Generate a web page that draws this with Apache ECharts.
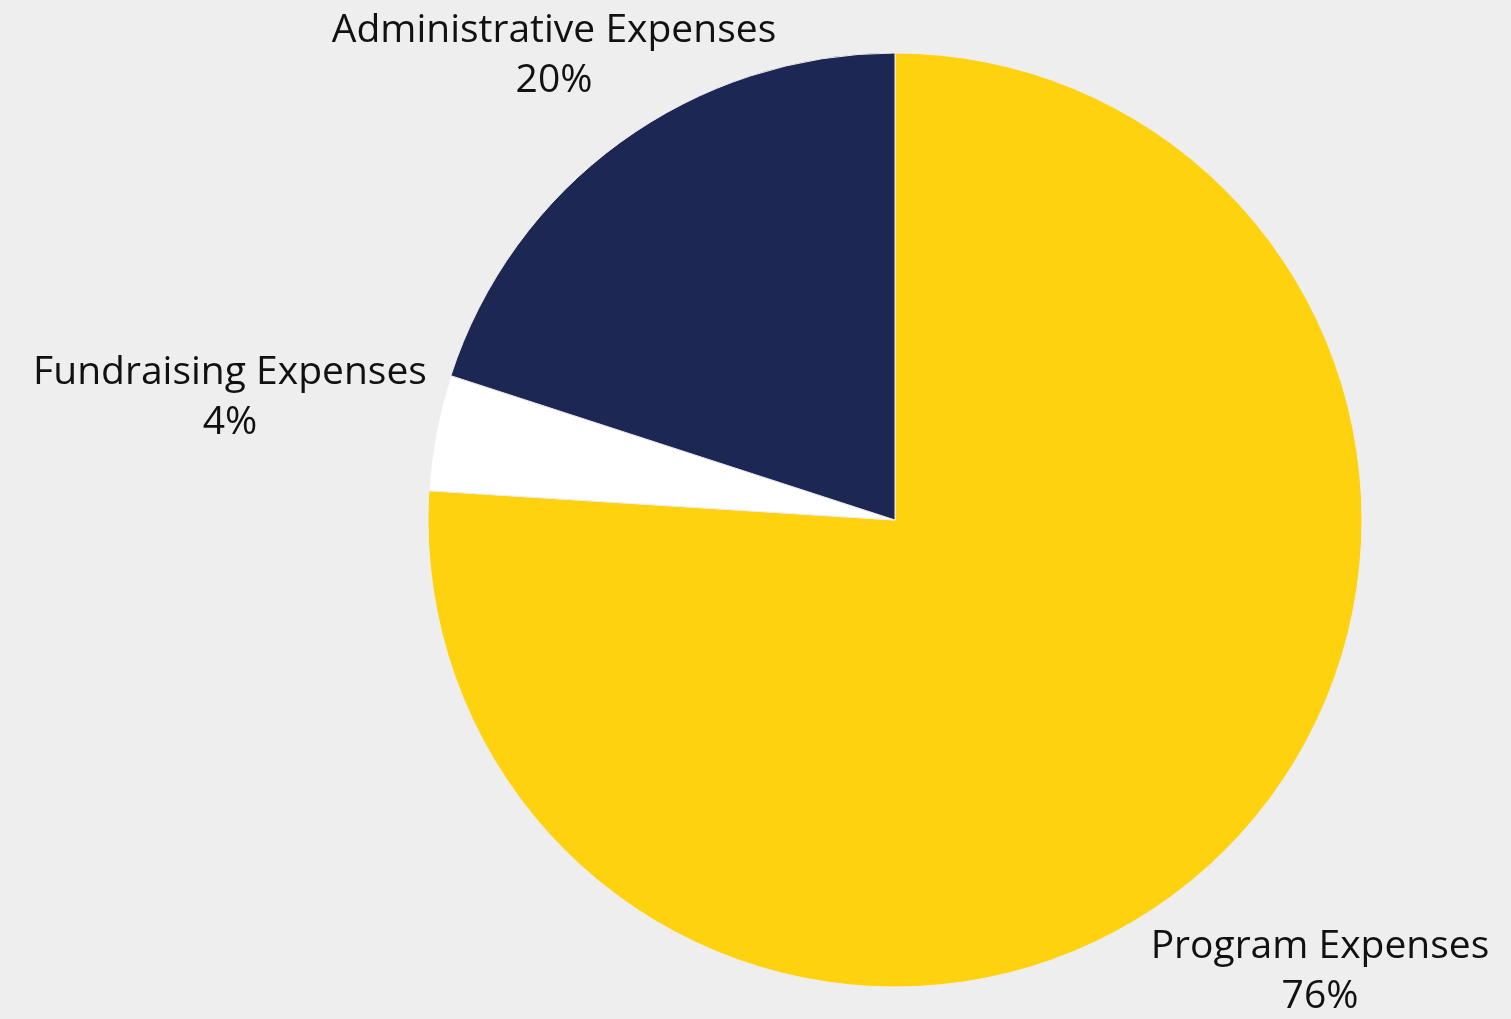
<!DOCTYPE html>
<html>
<head>
<meta charset="utf-8">
<style>
html,body{margin:0;padding:0;background:#eeeeee;}
#chart{width:1511px;height:1019px;}
</style>
<script src="https://cdn.jsdelivr.net/npm/echarts@6/dist/echarts.min.js"></script>
</head>
<body>
<div id="chart"></div>
<script>
var categories = ['Program Expenses', 'Fundraising Expenses', 'Administrative Expenses'];
var values = [76, 4, 20];
var colors = ['#FFD20F', '#FFFFFF', '#1D2753'];
var labelPos = [[1320, 972], [230, 398], [554, 56]];

var chart = echarts.init(document.getElementById('chart'));
chart.setOption({
  backgroundColor: '#eeeeee',
  animation: false,
  series: [{
    type: 'pie',
    center: [895, 520],
    radius: [0, 467],
    startAngle: 90,
    clockwise: true,
    avoidLabelOverlap: false,
    data: categories.map(function (c, i) {
      return { name: c, value: values[i], itemStyle: { color: colors[i] } };
    }),
    itemStyle: { borderColor: '#eeeeee', borderWidth: 1 },
    label: {
      show: true,
      position: 'outside',
      formatter: function (p) { return p.name + '\n' + p.value + '%'; },
      fontFamily: 'Open Sans',
      fontSize: 39,
      lineHeight: 50,
      color: '#111111',
      align: 'center'
    },
    labelLine: { show: false },
    labelLayout: function (p) {
      var pos = labelPos[p.dataIndex];
      return { x: pos[0], y: pos[1], align: 'center', verticalAlign: 'middle' };
    },
    emphasis: { disabled: true }
  }]
});
</script>
</body>
</html>
